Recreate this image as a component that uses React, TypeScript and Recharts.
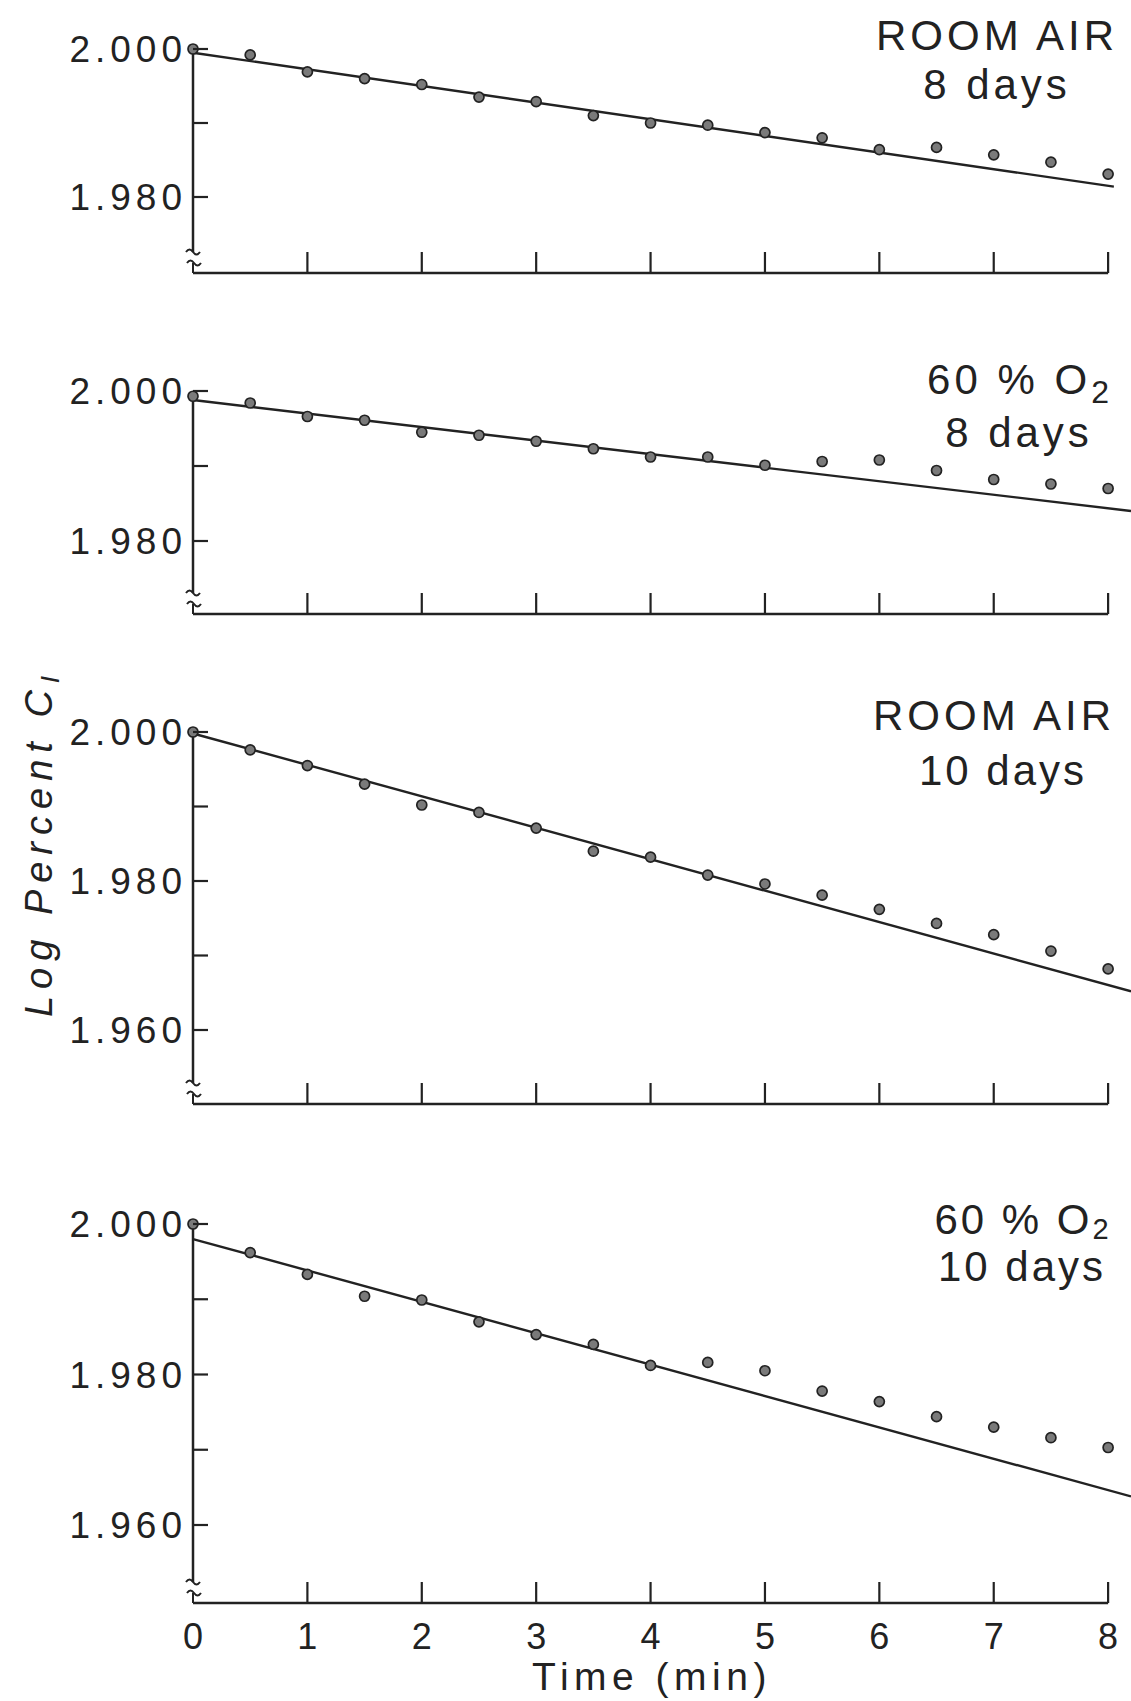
import React from 'react';
import { ComposedChart, Line, Scatter, XAxis, YAxis, ReferenceLine, ReferenceDot } from 'recharts';

// sampling times (min)
const times = [0, 0.5, 1, 1.5, 2, 2.5, 3, 3.5, 4, 4.5, 5, 5.5, 6, 6.5, 7, 7.5, 8];

// log percent C_I
const roomAir8 = [2.0, 1.9992, 1.9969, 1.996, 1.9952, 1.9935, 1.9929, 1.991, 1.99, 1.9897, 1.9887, 1.988, 1.9864, 1.9867, 1.9857, 1.9847, 1.9831];
const o2Pct8 = [1.9993, 1.9984, 1.9966, 1.9961, 1.9945, 1.9941, 1.9933, 1.9923, 1.9912, 1.9912, 1.9901, 1.9906, 1.9908, 1.9894, 1.9882, 1.9876, 1.987];
const roomAir10 = [2.0, 1.9976, 1.9955, 1.993, 1.9902, 1.9892, 1.9871, 1.984, 1.9832, 1.9808, 1.9796, 1.9781, 1.9762, 1.9743, 1.9728, 1.9706, 1.9682];
const o2Pct10 = [2.0, 1.9962, 1.9933, 1.9904, 1.9899, 1.987, 1.9853, 1.984, 1.9812, 1.9816, 1.9805, 1.9778, 1.9764, 1.9744, 1.973, 1.9716, 1.9703];

// fitted lines (start / end)
const roomAir8Fit = [{ t: 0, v: 1.9995 }, { t: 8.05, v: 1.9814 }];
const o2Pct8Fit = [{ t: 0, v: 1.9988 }, { t: 8.2, v: 1.984 }];
const roomAir10Fit = [{ t: 0, v: 1.9998 }, { t: 8.2, v: 1.9652 }];
const o2Pct10Fit = [{ t: 0, v: 1.998 }, { t: 8.2, v: 1.9638 }];

const xTicks = [0, 1, 2, 3, 4, 5, 6, 7, 8];
const yTicksShort = [1.98, 1.99, 2.0];
const yTicksTall = [1.96, 1.97, 1.98, 1.99, 2.0];
const yLabelsShort = [1.98, 2.0];
const yLabelsTall = [1.96, 1.98, 2.0];

const INK = '#222';
const FONT = "'Liberation Sans Narrow', 'Liberation Sans', Arial, sans-serif";

const renderYTick = (p: any, labeled: number[]) => {
  const v = p.payload.value;
  const show = labeled.some((l) => Math.abs(l - v) < 1e-6);
  return (
    <g>
      <line x1={p.x} x2={p.x + 15} y1={p.y} y2={p.y} stroke={INK} strokeWidth={2.2} />
      {show && (
        <text x={p.x - 6} y={p.y + 13} textAnchor="end" fontFamily={FONT} fontSize={37} letterSpacing={5} fill={INK}>
          {v.toFixed(3)}
        </text>
      )}
    </g>
  );
};

const renderXTick = (p: any, labels: boolean) => {
  const v = p.payload.value;
  return (
    <g>
      {v !== 0 && <line x1={p.x} x2={p.x} y1={p.y} y2={p.y - 21} stroke={INK} strokeWidth={2.2} />}
      {labels && (
        <text x={p.x} y={p.y + 46} textAnchor="middle" fontFamily={FONT} fontSize={36} fill={INK}>
          {v}
        </text>
      )}
    </g>
  );
};

const BreakMark = (p: any) => {
  const { cx, cy } = p;
  return (
    <g fill="none" stroke={INK} strokeWidth={2}>
      <path d={`M${cx - 7},${cy - 21} q3.5,-5 7,0 t7,0`} />
      <path d={`M${cx - 6},${cy - 10} q3.5,-5 7,0 t7,0`} />
      <line x1={cx} y1={cy - 10} x2={cx} y2={cy} />
    </g>
  );
};

const Dot = (p: any) => (
  <circle cx={p.cx} cy={p.cy} r={5} fill="#7a7a7a" stroke={INK} strokeWidth={1.7} />
);

type PanelProps = {
  values: number[];
  fit: { t: number; v: number }[];
  y2000: number;
  axisY: number;
  px01: number;
  yTicks: number[];
  yLabels: number[];
  bottomLabels?: boolean;
};

function Panel({ values, fit, y2000, axisY, px01, yTicks, yLabels, bottomLabels = false }: PanelProps) {
  const pxPerUnit = px01 * 100;
  const topPad = 8;
  const marginTop = 20;
  const top = y2000 - topPad - marginTop;
  const hi = 2 + topPad / pxPerUnit;
  const lo = 2 - (axisY - y2000) / pxPerUnit;
  const xAxisH = bottomLabels ? 60 : 4;
  const height = axisY - top + xAxisH;
  const points = times.map((t, i) => ({ t, v: values[i] }));

  return (
    <div style={{ position: 'absolute', left: 0, top }}>
      <ComposedChart width={1131} height={height} margin={{ top: marginTop, right: 0, bottom: 0, left: 0 }}>
        <XAxis
          type="number"
          dataKey="t"
          domain={[0, 8.2]}
          ticks={xTicks}
          interval={0}
          axisLine={false}
          tickLine={false}
          tickSize={0}
          tickMargin={0}
          height={xAxisH}
          tick={(p: any) => renderXTick(p, bottomLabels)}
        />
        <YAxis
          type="number"
          dataKey="v"
          domain={[lo, hi]}
          ticks={yTicks}
          interval={0}
          axisLine={false}
          tickLine={false}
          tickSize={0}
          tickMargin={0}
          width={193}
          tick={(p: any) => renderYTick(p, yLabels)}
        />
        <ReferenceLine segment={[{ x: 0, y: lo }, { x: 8, y: lo }]} stroke={INK} strokeWidth={2.5} ifOverflow="visible" />
        <ReferenceLine segment={[{ x: 0, y: lo + 21 / pxPerUnit }, { x: 0, y: 2 }]} stroke={INK} strokeWidth={2.5} ifOverflow="visible" />
        <ReferenceDot x={0} y={lo} r={0} shape={BreakMark} ifOverflow="visible" />
        <Line data={fit} dataKey="v" type="linear" stroke={INK} strokeWidth={2.4} dot={false} isAnimationActive={false} />
        <Scatter data={points} dataKey="v" shape={Dot} isAnimationActive={false} />
      </ComposedChart>
    </div>
  );
}

const labelStyle = { fontFamily: FONT, fontSize: 42, letterSpacing: 4, fill: INK } as const;

export default function App() {
  return (
    <div style={{ position: 'absolute', left: 0, top: 0, width: 1131, height: 1701, background: '#fff', overflow: 'hidden' }}>
      <Panel values={roomAir8} fit={roomAir8Fit} y2000={49} axisY={273} px01={74} yTicks={yTicksShort} yLabels={yLabelsShort} />
      <Panel values={o2Pct8} fit={o2Pct8Fit} y2000={391} axisY={614} px01={75} yTicks={yTicksShort} yLabels={yLabelsShort} />
      <Panel values={roomAir10} fit={roomAir10Fit} y2000={732} axisY={1104} px01={74.5} yTicks={yTicksTall} yLabels={yLabelsTall} />
      <Panel values={o2Pct10} fit={o2Pct10Fit} y2000={1224} axisY={1603} px01={75.25} yTicks={yTicksTall} yLabels={yLabelsTall} bottomLabels />

      <svg width={1131} height={1701} style={{ position: 'absolute', left: 0, top: 0, pointerEvents: 'none' }}>
        <text x={997} y={50} textAnchor="middle" {...labelStyle}>ROOM AIR</text>
        <text x={997} y={99} textAnchor="middle" {...labelStyle}>8 days</text>

        <text x={1020} y={394} textAnchor="middle" {...labelStyle}>
          60 % O<tspan dy={9} fontSize={32}>2</tspan>
        </text>
        <text x={1019} y={447} textAnchor="middle" {...labelStyle}>8 days</text>

        <text x={994} y={730} textAnchor="middle" {...labelStyle}>ROOM AIR</text>
        <text x={1003} y={785} textAnchor="middle" {...labelStyle} letterSpacing={3}>10 days</text>

        <text x={1023} y={1234} textAnchor="middle" {...labelStyle} letterSpacing={3}>
          60 % O<tspan dy={5} fontSize={29}>2</tspan>
        </text>
        <text x={1022} y={1281} textAnchor="middle" {...labelStyle} letterSpacing={3}>10 days</text>

        <text
          transform="translate(52,843) rotate(-90)"
          textAnchor="middle"
          fontFamily={FONT}
          fontSize={38}
          fontStyle="italic"
          letterSpacing={7}
          fill={INK}
        >
          Log Percent C<tspan dy={7} fontSize={26}>I</tspan>
        </text>

        <text x={652} y={1690} textAnchor="middle" fontFamily={FONT} fontSize={39} letterSpacing={5.5} fill={INK}>
          Time (min)
        </text>
      </svg>
    </div>
  );
}
